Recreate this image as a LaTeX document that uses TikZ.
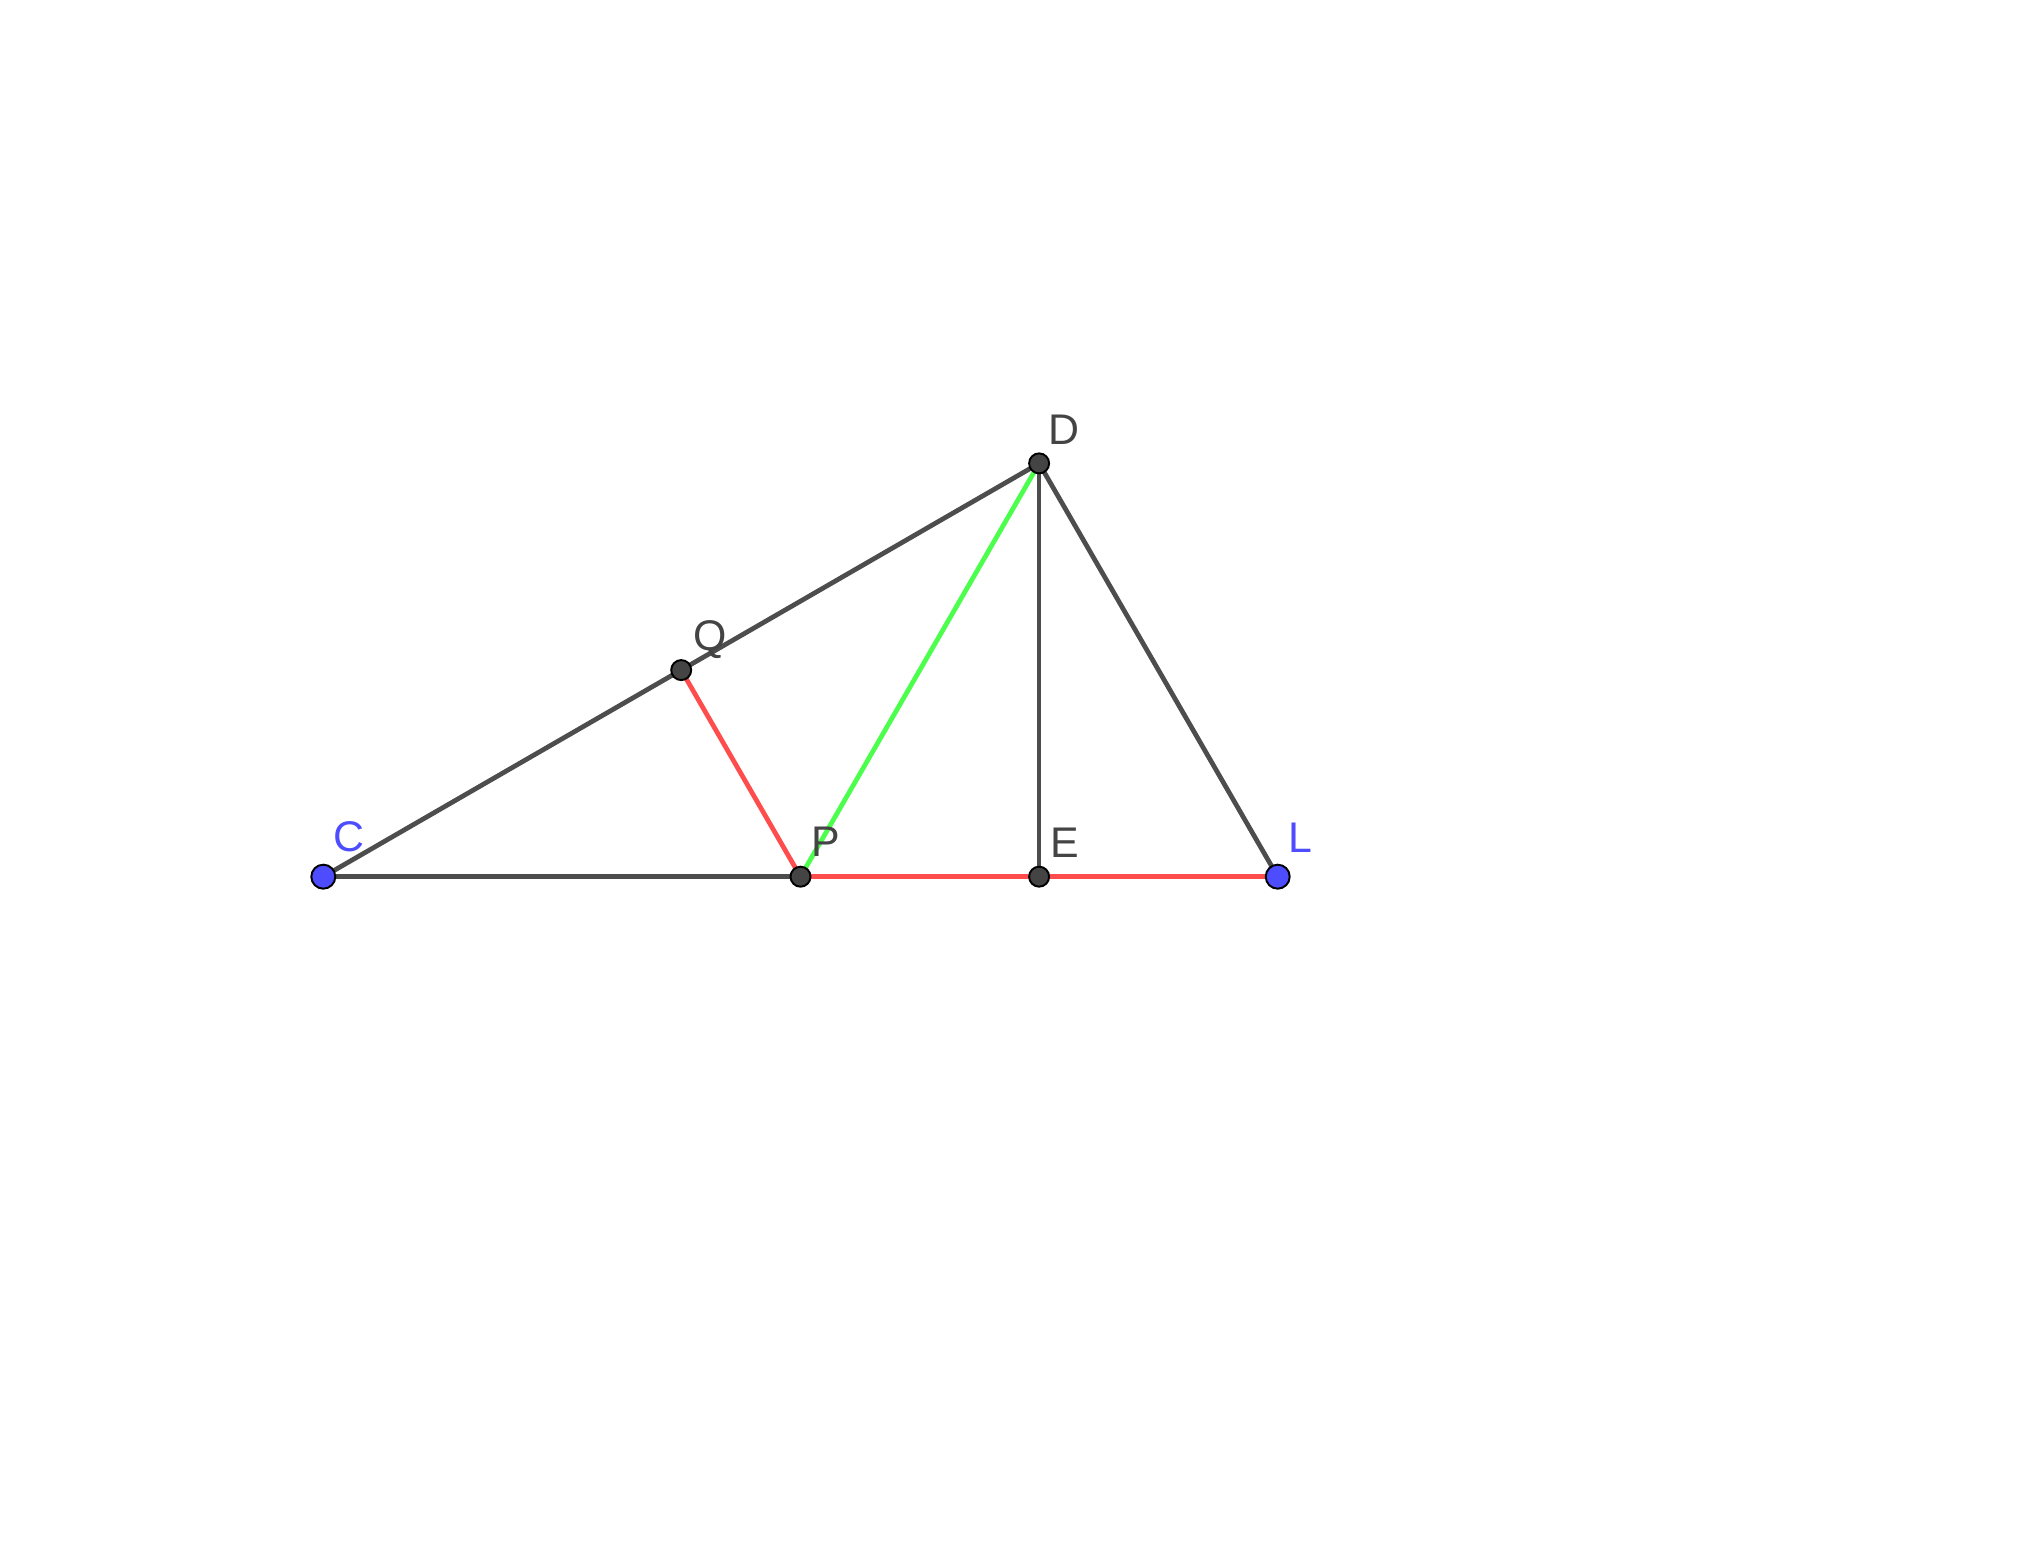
\documentclass[tikz,border=0pt]{standalone}
\usepackage{fontspec}
\setmainfont{Liberation Sans}
\usepackage{tikz}
\usetikzlibrary{calc}
\definecolor{gglgray}{HTML}{4D4D4D}
\definecolor{ggdark}{HTML}{444444}
\definecolor{ggblue}{HTML}{4D4DFF}
\definecolor{ggred}{HTML}{FF4D4D}
\definecolor{gggreen}{HTML}{4DFF4D}
\tikzset{
    seg/.style={line width=1.35pt, line cap=round},
    freept/.style={fill=ggblue, draw=black, line width=0.55pt},
    deppt/.style={fill=ggdark, draw=black, line width=0.55pt},
    lbl/.style={anchor=base west, inner sep=0pt, font=\fontsize{12.2}{14}\selectfont}
}

\begin{document}
\begin{tikzpicture}
    \useasboundingbox (0,0) rectangle (20.36,15.51);

    \coordinate (C) at (3.233,6.743);
    \coordinate (L) at (12.777,6.743);
    \coordinate (P) at (8.005,6.743);
    \coordinate (E) at (10.391,6.743);
    \coordinate (D) at (10.391,10.876);
    \coordinate (Q) at (6.812,8.809);

    % Segments
    \draw[seg, gglgray] (C) -- (P);
    \draw[seg, ggred] (P) -- (L);
    \draw[seg, gglgray] (C) -- (D);
    \draw[seg, gglgray] (D) -- (L);
    \draw[seg, gglgray] (D) -- (E);
    \draw[seg, ggred] (Q) -- (P);
    \draw[seg, gggreen] (P) -- (D);

    % Points
    \draw[freept] (C) circle (0.12);
    \draw[freept] (L) circle (0.12);
    \draw[deppt] (P) circle (0.1);
    \draw[deppt] (E) circle (0.1);
    \draw[deppt] (D) circle (0.1);
    \draw[deppt] (Q) circle (0.1);

    % Labels
    \node[lbl, text=ggblue] (lC) at ($(C)+(0.09,0.25)$) {C};
    \node[lbl, text=ggblue] (lL) at ($(L)+(0.10,0.24)$) {L};
    \node[lbl, text=ggdark] (lD) at ($(D)+(0.09,0.19)$) {D};
    \node[lbl, text=ggdark] (lP) at ($(P)+(0.10,0.20)$) {P};
    \node[lbl, text=ggdark] (lQ) at ($(Q)+(0.12,0.20)$) {Q};
    \node[lbl, text=ggdark] (lE) at ($(E)+(0.11,0.19)$) {E};
\end{tikzpicture}
\end{document}
